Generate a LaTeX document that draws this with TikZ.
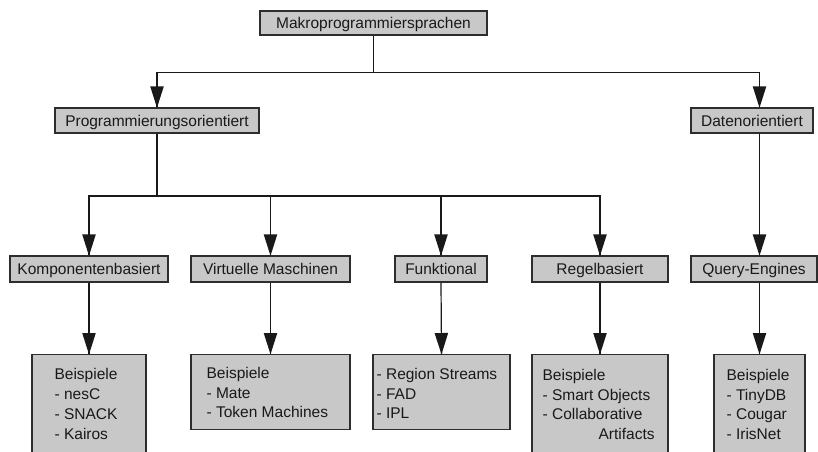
\documentclass[tikz,border=0pt]{standalone}
\usepackage{fontspec}
\setmainfont{Liberation Sans}
\usetikzlibrary{decorations.markings}

\definecolor{boxfill}{RGB}{200,200,200}
\definecolor{boxline}{RGB}{45,45,45}
\definecolor{inkcol}{RGB}{25,25,25}

\tikzset{
  labelfont/.style={font=\fontsize{15.5}{19.7}\selectfont, text=inkcol},
  catbox/.style={labelfont, draw=boxline, fill=boxfill, line width=1.2pt,
    inner sep=0pt, text height=11.1pt, text depth=0pt},
  exbox/.style={draw=boxline, fill=boxfill, line width=1.2pt, inner sep=0pt,
    anchor=north},
  extext/.style={labelfont, inner sep=0pt, align=left, anchor=north west},
  link/.style={draw=inkcol, line width=1.2pt},
  % wide filled triangle at the end of a connector
  arr/.style={link, postaction={decorate, decoration={markings,
    mark=at position 1 with {\fill[inkcol] (0.4pt,0pt) -- (-21pt,6.8pt) -- (-21pt,-6.8pt) -- cycle;}}}}
}

\begin{document}
\begin{tikzpicture}[x=1pt,y=1pt]
  \useasboundingbox (0,0) rectangle (818,-451);
  \clip (0,0) rectangle (818,-451);

  % root
  \node[catbox, minimum width=227, minimum height=24] (root) at (373.5,-23) {Makroprogrammiersprachen};

  % first level
  \node[catbox, minimum width=204, minimum height=25] (prog) at (157,-120.5) {Programmierungsorientiert};
  \node[catbox, minimum width=122, minimum height=25] (daten) at (752,-120.5) {Datenorientiert};

  % second level
  \node[catbox, minimum width=158, minimum height=26] (komp) at (89,-269) {Komponentenbasiert};
  \node[catbox, minimum width=159, minimum height=26] (virt) at (270.5,-269) {Virtuelle Maschinen};
  \node[catbox, minimum width=92, minimum height=26] (funk) at (441,-269) {Funktional};
  \node[catbox, minimum width=136, minimum height=26] (regel) at (600,-269) {Regelbasiert};
  \node[catbox, minimum width=126, minimum height=26] (query) at (754,-269) {Query-Engines};

  % example boxes
  \node[exbox, minimum width=114, minimum height=110] (ex1) at (89,-354) {};
  \node[exbox, minimum width=159, minimum height=75] (ex2) at (270.5,-354) {};
  \node[exbox, minimum width=137, minimum height=75] (ex3) at (441.5,-354) {};
  \node[exbox, minimum width=136, minimum height=110] (ex4) at (600,-354) {};
  \node[exbox, minimum width=91, minimum height=110] (ex5) at (759.5,-354) {};

  \node[extext] (ex1t) at ([xshift=23pt,yshift=-14.5pt]ex1.north west)
    {Beispiele\\- nesC\\- SNACK\\- Kairos};
  \node[extext] (ex2t) at ([xshift=16pt,yshift=-13pt]ex2.north west)
    {Beispiele\\- Mate\\- Token Machines};
  \node[extext] (ex3t) at ([xshift=4pt,yshift=-14pt]ex3.north west)
    {- Region Streams\\- FAD\\- IPL};
  \node[extext] (ex4t) at ([xshift=11pt,yshift=-15pt]ex4.north west)
    {Beispiele\\- Smart Objects\\- Collaborative\\\hspace*{56pt}Artifacts};
  \node[extext] (ex5t) at ([xshift=13pt,yshift=-15pt]ex5.north west)
    {Beispiele\\- TinyDB\\- Cougar\\- IrisNet};

  % junctions
  \coordinate (j1) at (373.5,-72.5);
  \coordinate (j2) at (157,-196);

  % root to first level
  \draw[link] (root.south) -- (j1);
  \draw[arr] (j1) -| (prog.north);
  \draw[arr] (j1) -| (daten.north -| ex5.north);

  % programming oriented branch
  \draw[link] (prog.south) -- (j2);
  \draw[arr] (j2) -| (komp.north);
  \draw[arr] (j2) -| (virt.north);
  \draw[arr] (j2) -| (funk.north);
  \draw[arr] (j2) -| (regel.north);

  % data oriented branch
  \draw[arr] (daten.south -| ex5.north) -- (query.north -| ex5.north);

  % categories to examples
  \draw[arr] (komp.south) -- (ex1.north);
  \draw[arr] (virt.south) -- (ex2.north);
  \draw[arr] (funk.south) -- (ex3.north);
  \draw[arr] (regel.south) -- (ex4.north);
  \draw[arr] (query.south -| ex5.north) -- (ex5.north);
\end{tikzpicture}
\end{document}
